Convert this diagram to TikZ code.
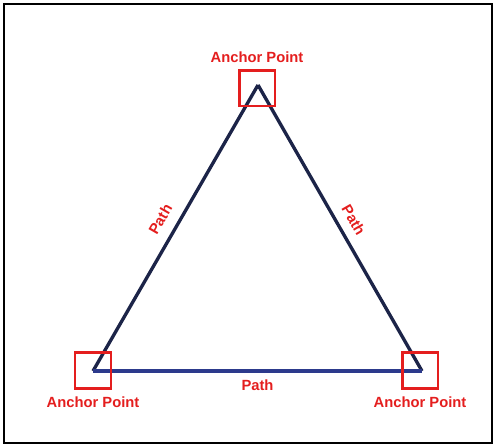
\documentclass[tikz,border=0pt]{standalone}
\usepackage{fontspec}
\setmainfont{Liberation Sans}
\definecolor{pathnavy}{HTML}{1C2448}
\definecolor{pathblue}{HTML}{2C3A8C}
\definecolor{anchorred}{HTML}{E41E1E}
\tikzset{
  anchorbox/.style={draw=anchorred,line width=1.7pt,minimum size=0.72cm,inner sep=0pt},
  anchortext/.style={text=anchorred,font=\fontsize{8.4}{10}\selectfont\bfseries,inner sep=1pt},
  pathline/.style={line width=1.9pt,line join=miter},
}
\begin{document}
\begin{tikzpicture}[x=0.02cm,y=-0.02cm]
	\useasboundingbox (0,0) rectangle (496,447);
	\draw[line width=1.1pt] (4,4) rectangle (492,443);
	\coordinate (top) at (258,85);
	\coordinate (left) at (93,371);
	\coordinate (right) at (422,371);
	\draw[pathline,pathnavy] (left) -- (top) node[midway,sloped,above=5pt,anchortext]{Path};
	\draw[pathline,pathnavy] (top) -- (right) node[midway,sloped,above=4pt,anchortext]{Path};
	\draw[pathline,pathblue] (left) -- (right) node[midway,below=3pt,anchortext]{Path};
	\node[anchorbox] (topbox) at (257,88) {};
	\node[anchorbox] (leftbox) at (93,370) {};
	\node[anchorbox] (rightbox) at (420,370) {};
	\node[anchortext,above=2pt] (toplabel) at (topbox.north) {Anchor Point};
	\node[anchortext,below=3pt] (leftlabel) at (leftbox.south) {Anchor Point};
	\node[anchortext,below=3pt] (rightlabel) at (rightbox.south) {Anchor Point};
\end{tikzpicture}
\end{document}
